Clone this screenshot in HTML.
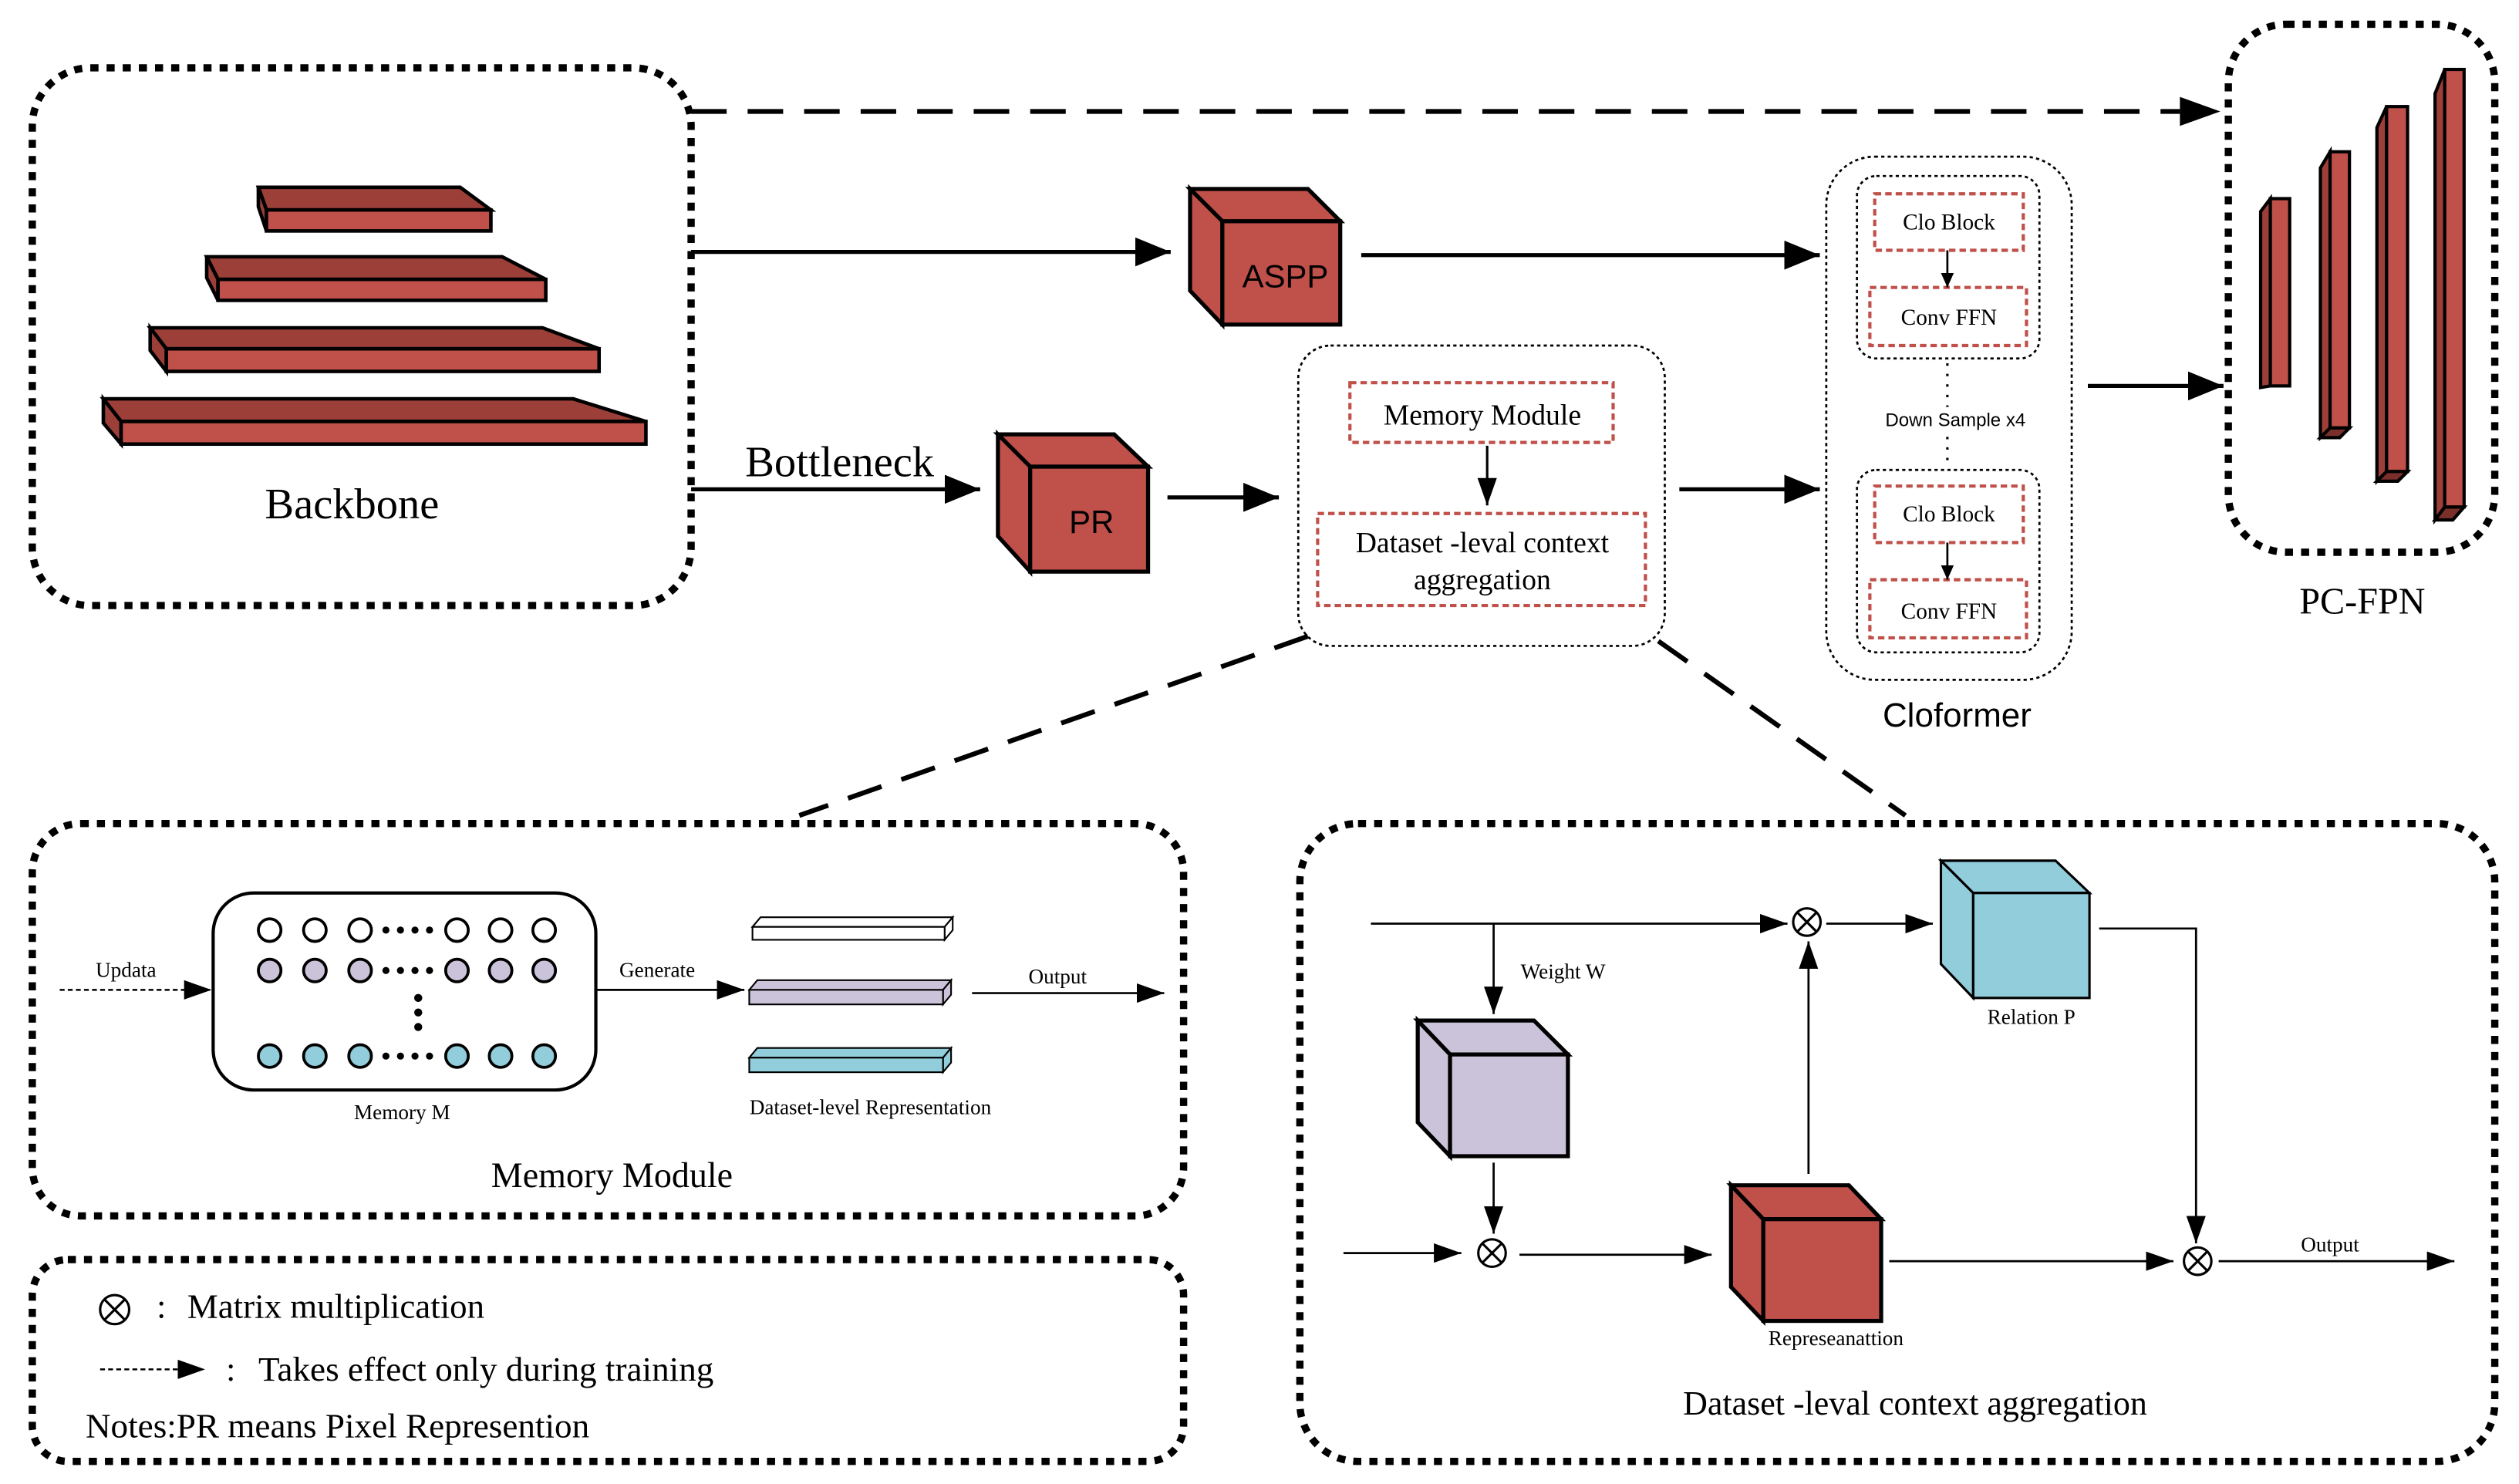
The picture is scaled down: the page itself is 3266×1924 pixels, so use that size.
<!DOCTYPE html>
<html><head><meta charset="utf-8"><style>
html,body{margin:0;padding:0;background:#fff;}
svg{display:block;}
text{font-family:"Liberation Serif",serif;fill:#000;}
.s{font-family:"Liberation Sans",sans-serif;}
</style></head><body>
<svg width="3266" height="1924" viewBox="0 0 1560 919" xmlns="http://www.w3.org/2000/svg">
<defs>
<marker id="A" markerUnits="userSpaceOnUse" markerWidth="24" markerHeight="18" refX="22" refY="9" orient="auto"><path d="M0,0 L22,9 L0,18 Z" fill="#000"/></marker>
<marker id="a" markerUnits="userSpaceOnUse" markerWidth="18" markerHeight="14" refX="17" refY="6" orient="auto"><path d="M0,0 L17,6 L0,12 Z" fill="#000"/></marker>
<marker id="t" markerUnits="userSpaceOnUse" markerWidth="10" markerHeight="14" refX="9" refY="4" orient="auto"><path d="M0,0 L9,4 L0,8 Z" fill="#000"/></marker>
</defs>
<rect width="1560" height="919" fill="#fff"/>

<g fill="none" stroke="#000" stroke-width="4.5" stroke-dasharray="5 5">
<rect x="20" y="42" width="408" height="333" rx="36"/>
<rect x="1380" y="15" width="165" height="327" rx="36"/>
<rect x="20" y="510" width="713" height="243" rx="30"/>
<rect x="20" y="780" width="713" height="125" rx="22"/>
<rect x="805" y="510" width="740" height="395" rx="36"/>
</g>

<g stroke="#000" stroke-width="3" fill="none" stroke-dasharray="22 13">
<line x1="428" y1="69" x2="1350" y2="69"/>
<line x1="810" y1="394" x2="495" y2="505"/>
<line x1="1027" y1="397" x2="1180" y2="505"/>
</g>
<path d="M1350,60 L1375,69 L1350,78Z" fill="#000"/>

<g stroke="#000" stroke-width="2.2" stroke-linejoin="miter">
<polygon points="160,116 285,116 304,130 165,130" fill="#9c3f39"/><polygon points="160,116 165,130 165,143 160,128" fill="#9c3f39"/><rect x="165" y="130" width="139" height="13" fill="#c0504a"/>
<polygon points="128,159 311,159 338,173 135,173" fill="#9c3f39"/><polygon points="128,159 135,173 135,186 128,172" fill="#9c3f39"/><rect x="135" y="173" width="203" height="13" fill="#c0504a"/>
<polygon points="93,203 336,203 371,216 103,216" fill="#9c3f39"/><polygon points="93,203 103,216 103,230 93,217" fill="#9c3f39"/><rect x="103" y="216" width="268" height="14" fill="#c0504a"/>
<polygon points="64,247 355,247 400,261 75,261" fill="#9c3f39"/><polygon points="64,247 75,261 75,275 64,262" fill="#9c3f39"/><rect x="75" y="261" width="325" height="14" fill="#c0504a"/>
</g>
<text x="218" y="321" font-size="27" text-anchor="middle">Backbone</text>
<text x="520" y="295" font-size="27" text-anchor="middle">Bottleneck</text>

<g stroke="#000" stroke-width="2.5" fill="none">
<line x1="428" y1="156" x2="725" y2="156" marker-end="url(#A)"/>
<line x1="428" y1="303" x2="607" y2="303" marker-end="url(#A)"/>
<line x1="723" y1="308" x2="792" y2="308" marker-end="url(#A)"/>
<line x1="843" y1="158" x2="1127" y2="158" marker-end="url(#A)"/>
<line x1="1040" y1="303" x2="1127" y2="303" marker-end="url(#A)"/>
<line x1="1293" y1="239" x2="1377" y2="239" marker-end="url(#A)"/>
</g>

<g stroke="#000" stroke-width="2.5" fill="#c0504a" stroke-linejoin="miter">
<polygon points="737,117 810,117 830,137 757,137"/>
<polygon points="737,117 757,137 757,201 737,180"/>
<rect x="757" y="137" width="73" height="64"/>
<polygon points="618,269 690,269 711,289 638,289"/>
<polygon points="618,269 638,289 638,354 618,332"/>
<rect x="638" y="289" width="73" height="65"/>
</g>
<text class="s" x="796" y="178" font-size="20" text-anchor="middle">ASPP</text>
<text class="s" x="676" y="330" font-size="20" text-anchor="middle">PR</text>

<rect x="804" y="214" width="227" height="186" rx="20" fill="none" stroke="#000" stroke-width="1.3" stroke-dasharray="2 2"/>
<g fill="none" stroke="#c0504a" stroke-width="2" stroke-dasharray="4 2.5">
<rect x="836" y="237" width="163" height="37"/>
<rect x="816" y="318" width="203" height="57"/>
</g>
<text x="918" y="263" font-size="18" text-anchor="middle">Memory Module</text>
<line x1="921" y1="276" x2="921" y2="313" stroke="#000" stroke-width="1.5" marker-end="url(#a)"/>
<text x="918" y="342" font-size="18" text-anchor="middle">Dataset -leval context</text>
<text x="918" y="365" font-size="18" text-anchor="middle">aggregation</text>

<g fill="none" stroke="#000" stroke-width="1.3" stroke-dasharray="2 2">
<rect x="1131" y="97" width="152" height="324" rx="30"/>
<rect x="1150" y="109" width="113" height="113" rx="12"/>
<rect x="1150" y="291" width="113" height="113" rx="12"/>
<line x1="1206" y1="225" x2="1206" y2="290" stroke-width="1.5" stroke-dasharray="1.5 5"/>
</g>
<g fill="none" stroke="#c0504a" stroke-width="2" stroke-dasharray="4 2.5">
<rect x="1161" y="120" width="92" height="35"/>
<rect x="1158" y="178" width="97" height="36"/>
<rect x="1161" y="301" width="92" height="35"/>
<rect x="1158" y="359" width="97" height="36"/>
</g>
<line x1="1206" y1="155" x2="1206" y2="178" stroke="#000" stroke-width="1.3" marker-end="url(#t)"/>
<line x1="1206" y1="336" x2="1206" y2="359" stroke="#000" stroke-width="1.3" marker-end="url(#t)"/>
<text x="1207" y="142" font-size="14" text-anchor="middle">Clo Block</text>
<text x="1207" y="201" font-size="14" text-anchor="middle">Conv FFN</text>
<text x="1207" y="323" font-size="14" text-anchor="middle">Clo Block</text>
<text x="1207" y="383" font-size="14" text-anchor="middle">Conv FFN</text>
<rect x="1160" y="252" width="102" height="14" fill="#fff"/>
<text class="s" x="1211" y="264" font-size="11.5" text-anchor="middle">Down Sample x4</text>
<text class="s" x="1212" y="450" font-size="21" text-anchor="middle">Cloformer</text>

<g stroke="#000" stroke-width="2" fill="#c0504a" stroke-linejoin="miter">
<polygon points="1400,131 1406,123 1406,239 1400,240" fill="#9c3f39"/><rect x="1406" y="123" width="12" height="116"/>
<polygon points="1437,104 1443,94 1443,265 1437,271" fill="#9c3f39"/><rect x="1443" y="94" width="12" height="171"/><polygon points="1437,271 1443,265 1455,265 1449,271" fill="#7a2f2b"/>
<polygon points="1472,79 1478,66 1478,292 1472,298" fill="#9c3f39"/><rect x="1478" y="66" width="13" height="226"/><polygon points="1472,298 1478,292 1491,292 1485,298" fill="#7a2f2b"/>
<polygon points="1508,58 1514,43 1514,314 1508,322" fill="#9c3f39"/><rect x="1514" y="43" width="12" height="271"/><polygon points="1508,322 1514,314 1526,314 1519,322" fill="#7a2f2b"/>
</g>
<text x="1463" y="380" font-size="23" text-anchor="middle">PC-FPN</text>

<rect x="132" y="553" width="237" height="122" rx="25" fill="none" stroke="#000" stroke-width="2"/>
<g stroke="#000" stroke-width="1.8">
<g fill="#fff"><circle cx="167" cy="576" r="7"/><circle cx="195" cy="576" r="7"/><circle cx="223" cy="576" r="7"/><circle cx="283" cy="576" r="7"/><circle cx="310" cy="576" r="7"/><circle cx="337" cy="576" r="7"/></g>
<g fill="#cbc3da"><circle cx="167" cy="601" r="7"/><circle cx="195" cy="601" r="7"/><circle cx="223" cy="601" r="7"/><circle cx="283" cy="601" r="7"/><circle cx="310" cy="601" r="7"/><circle cx="337" cy="601" r="7"/></g>
<g fill="#92cddb"><circle cx="167" cy="654" r="7"/><circle cx="195" cy="654" r="7"/><circle cx="223" cy="654" r="7"/><circle cx="283" cy="654" r="7"/><circle cx="310" cy="654" r="7"/><circle cx="337" cy="654" r="7"/></g>
</g>
<g fill="#000">
<circle cx="239" cy="576" r="2.2"/><circle cx="248" cy="576" r="2.2"/><circle cx="257" cy="576" r="2.2"/><circle cx="266" cy="576" r="2.2"/>
<circle cx="239" cy="601" r="2.2"/><circle cx="248" cy="601" r="2.2"/><circle cx="257" cy="601" r="2.2"/><circle cx="266" cy="601" r="2.2"/>
<circle cx="239" cy="654" r="2.2"/><circle cx="248" cy="654" r="2.2"/><circle cx="257" cy="654" r="2.2"/><circle cx="266" cy="654" r="2.2"/>
<circle cx="259" cy="618" r="2.5"/><circle cx="259" cy="627" r="2.5"/><circle cx="259" cy="636" r="2.5"/>
</g>
<line x1="37" y1="613" x2="131" y2="613" stroke="#000" stroke-width="1.2" stroke-dasharray="3 2" marker-end="url(#a)"/>
<text x="78" y="605" font-size="13" text-anchor="middle">Updata</text>
<line x1="369" y1="613" x2="461" y2="613" stroke="#000" stroke-width="1.3" marker-end="url(#a)"/>
<text x="407" y="605" font-size="13" text-anchor="middle">Generate</text>
<line x1="602" y1="615" x2="721" y2="615" stroke="#000" stroke-width="1.3" marker-end="url(#a)"/>
<text x="655" y="609" font-size="13" text-anchor="middle">Output</text>
<g stroke="#000" stroke-width="1">
<polygon points="466,574 471,568 590,568 585,574" fill="#fff"/><polygon points="585,574 590,568 590,576 585,582" fill="#fff"/><rect x="466" y="574" width="119" height="8" fill="#fff"/>
<polygon points="464,613 469,607 589,607 584,613" fill="#cbc3da"/><polygon points="584,613 589,607 589,616 584,622" fill="#cbc3da"/><rect x="464" y="613" width="120" height="9" fill="#cbc3da"/>
<polygon points="464,655 469,649 589,649 584,655" fill="#92cddb"/><polygon points="584,655 589,649 589,658 584,664" fill="#92cddb"/><rect x="464" y="655" width="120" height="9" fill="#92cddb"/>
</g>
<text x="249" y="693" font-size="13" text-anchor="middle">Memory M</text>
<text x="539" y="690" font-size="13" text-anchor="middle">Dataset-level Representation</text>
<text x="379" y="735" font-size="22" text-anchor="middle">Memory Module</text>

<g stroke="#000" stroke-width="1.5" fill="none">
<circle cx="71" cy="811" r="9"/><line x1="65" y1="805" x2="77" y2="817"/><line x1="77" y1="805" x2="65" y2="817"/>
</g>
<text x="97" y="816" font-size="21">:</text>
<text x="116" y="816" font-size="21" textLength="184" lengthAdjust="spacingAndGlyphs">Matrix multiplication</text>
<line x1="62" y1="848" x2="127" y2="848" stroke="#000" stroke-width="1.2" stroke-dasharray="3 2" marker-end="url(#a)"/>
<text x="140" y="855" font-size="21">:</text>
<text x="160" y="855" font-size="21" textLength="282" lengthAdjust="spacingAndGlyphs">Takes effect only during training</text>
<text x="53" y="890" font-size="21" textLength="312" lengthAdjust="spacingAndGlyphs">Notes:PR means Pixel Represention</text>

<g stroke="#000" stroke-width="1.3" fill="none">
<line x1="849" y1="572" x2="1107" y2="572" marker-end="url(#a)"/>
<line x1="1131" y1="572" x2="1197" y2="572" marker-end="url(#a)"/>
<polyline points="1300,575 1360,575 1360,770" marker-end="url(#a)"/>
<line x1="1374" y1="781" x2="1520" y2="781" marker-end="url(#a)"/>
<line x1="925" y1="572" x2="925" y2="628" marker-end="url(#a)"/>
<line x1="925" y1="720" x2="925" y2="764" marker-end="url(#a)"/>
<line x1="832" y1="776" x2="905" y2="776" marker-end="url(#a)"/>
<line x1="941" y1="777" x2="1060" y2="777" marker-end="url(#a)"/>
<line x1="1120" y1="727" x2="1120" y2="583" marker-end="url(#a)"/>
<line x1="1170" y1="781" x2="1346" y2="781" marker-end="url(#a)"/>
</g>
<g stroke="#000" stroke-width="1.5" fill="#fff">
<circle cx="1119" cy="571" r="8.5"/><path d="M1113,565 L1125,577 M1125,565 L1113,577"/>
<circle cx="924" cy="776" r="8.5"/><path d="M918,770 L930,782 M930,770 L918,782"/>
<circle cx="1361" cy="781" r="8.5"/><path d="M1355,775 L1367,787 M1367,775 L1355,787"/>
</g>
<g stroke="#000" stroke-width="1.5" fill="#92cddb">
<polygon points="1202,533 1273,533 1294,553 1222,553"/><polygon points="1202,533 1222,553 1222,618 1202,597"/><rect x="1222" y="553" width="72" height="65"/>
</g>
<g stroke="#000" stroke-width="2.5" fill="#cbc3da">
<polygon points="878,632 950,632 971,653 898,653"/><polygon points="878,632 898,653 898,716 878,695"/><rect x="898" y="653" width="73" height="63"/>
</g>
<g stroke="#000" stroke-width="2.5" fill="#c0504a">
<polygon points="1072,734 1145,734 1165,755 1092,755"/><polygon points="1072,734 1092,755 1092,818 1072,797"/><rect x="1092" y="755" width="73" height="63"/>
</g>
<text x="968" y="606" font-size="13" text-anchor="middle">Weight W</text>
<text x="1258" y="634" font-size="13" text-anchor="middle">Relation P</text>
<text x="1137" y="833" font-size="13" text-anchor="middle">Represeanattion</text>
<text x="1443" y="775" font-size="13" text-anchor="middle">Output</text>
<text x="1186" y="876" font-size="21" text-anchor="middle">Dataset -leval context aggregation</text>
</svg>
</body></html>
